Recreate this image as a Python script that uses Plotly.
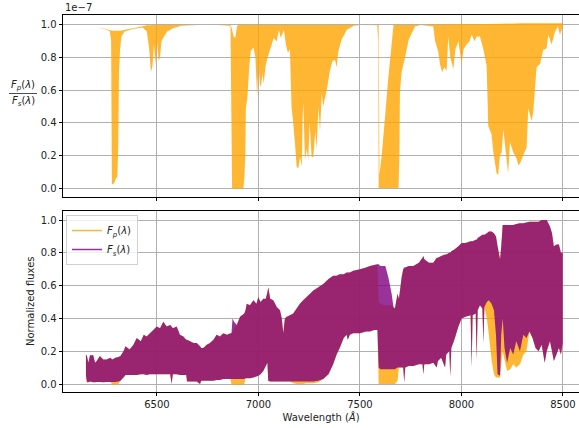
import plotly.graph_objects as go

# ---------------- data ----------------
# Top panel: ratio Fp/Fs in units of 1e-7, drawn as a band between envelopes
wl_top_hi = [6150, 6200, 6250, 6280, 6320, 6360, 6400, 6450, 6500, 6600, 6700, 6860,
             6866, 6878, 6886, 6894, 6900, 7000, 7200, 7500, 7588, 7592, 7596, 7607,
             7623, 7639, 7655, 7665, 7700, 7800, 8000, 8100, 8300, 8450, 8500]
ratio_hi = [0.99, 0.985, 0.975, 0.965, 0.965, 0.975, 0.985, 0.998, 1.0, 1.0, 1.0, 1.0,
            0.99, 0.93, 0.92, 0.99, 1.0, 1.0, 1.0, 1.0, 1.0, 1.0, 0.08, 0.2,
            0.43, 0.67, 0.87, 1.0, 1.0, 1.0, 1.005, 1.005, 1.01, 1.01, 1.01]

wl_top_lo = [6150, 6200, 6250, 6268, 6274, 6278, 6290, 6298, 6305, 6309, 6313, 6318,
             6325, 6340, 6380, 6430, 6450, 6462, 6470, 6478, 6485, 6492, 6500, 6508,
             6515, 6522, 6535, 6550, 6580, 6620, 6700, 6800, 6855, 6862, 6866, 6870,
             6925, 6930, 6935, 6938, 6945, 6955, 6962, 6975, 6985, 6993, 7000, 7008,
             7014, 7020, 7026, 7035, 7045, 7060, 7075, 7090, 7100, 7110, 7125, 7135,
             7145, 7155, 7163, 7168, 7180, 7188, 7196, 7205, 7213, 7218, 7221, 7229,
             7237, 7245, 7252, 7262, 7270, 7280, 7286, 7296, 7303, 7312, 7319, 7336,
             7352, 7365, 7377, 7385, 7393, 7409, 7434, 7470, 7500, 7585, 7590, 7592,
             7690, 7694, 7697, 7705, 7722, 7740, 7771, 7800, 7861, 7870, 7885, 7894,
             7905, 7915, 7927, 7935, 7945, 7960, 7970, 7985, 8001, 8010, 8025, 8040,
             8050, 8065, 8075, 8091, 8108, 8124, 8132, 8148, 8157, 8173, 8181, 8189,
             8198, 8206, 8222, 8230, 8239, 8255, 8272, 8280, 8288, 8304, 8321, 8329,
             8346, 8354, 8362, 8370, 8387, 8403, 8411, 8420, 8428, 8444, 8461, 8475,
             8485, 8499]
ratio_lo = [0.99, 0.985, 0.972, 0.962, 0.90, 0.02, 0.03, 0.06, 0.07, 0.25, 0.72, 0.85,
            0.93, 0.96, 0.975, 0.985, 0.96, 0.85, 0.71, 0.75, 0.88, 0.76, 0.90, 0.78,
            0.80, 0.90, 0.93, 0.96, 0.98, 0.995, 1.0, 1.0, 0.995, 0.99, 0.5, -0.005,
            -0.005, 0.05, 0.2, 0.49, 0.55, 0.75, 0.84, 0.86, 0.80, 0.56, 0.75, 0.62,
            0.64, 0.70, 0.64, 0.75, 0.80, 0.86, 0.92, 0.90, 0.97, 0.92, 0.97, 0.88,
            0.83, 0.85, 0.49, 0.44, 0.27, 0.13, 0.12, 0.19, 0.13, 0.45, 0.52, 0.17,
            0.24, 0.17, 0.40, 0.19, 0.19, 0.35, 0.24, 0.50, 0.345, 0.58, 0.50, 0.60,
            0.72, 0.78, 0.785, 0.74, 0.836, 0.908, 0.97, 0.995, 1.0, 0.998, 0.9, 0.0,
            0.0, 0.2, 0.59, 0.71, 0.80, 0.91, 0.99, 1.0, 0.99, 0.90, 0.84, 0.76,
            0.71, 0.74, 0.72, 0.93, 0.80, 0.73, 0.85, 0.90, 0.76, 0.85, 0.88, 0.90,
            0.94, 0.90, 0.93, 0.93, 0.85, 0.75, 0.38, 0.33, 0.22, 0.09, 0.08, 0.20,
            0.22, 0.36, 0.18, 0.09, 0.28, 0.22, 0.18, 0.14, 0.15, 0.20, 0.25, 0.49,
            0.41, 0.47, 0.61, 0.74, 0.76, 0.85, 0.85, 0.86, 0.94, 0.88, 0.96, 0.99,
            0.94, 0.99]

# Bottom panel: normalized fluxes, lower/upper envelopes of the dense spectra
wl_bot = [6150, 6155, 6162, 6170, 6186, 6195, 6203, 6219, 6235, 6252, 6270, 6280,
          6295, 6310, 6320, 6335, 6345, 6365, 6384, 6400, 6420, 6435, 6449, 6465,
          6482, 6499, 6515, 6531, 6548, 6565, 6572, 6578, 6597, 6613, 6630, 6644,
          6648, 6663, 6680, 6696, 6712, 6718, 6728, 6745, 6761, 6778, 6794, 6810,
          6827, 6845, 6862, 6867, 6872, 6880, 6893, 6909, 6930, 6936, 6942, 6958,
          6975, 6990, 6999, 7010, 7024, 7036, 7044, 7048, 7058, 7073, 7090, 7106,
          7115, 7122, 7130, 7139, 7155, 7171, 7188, 7204, 7220, 7237, 7254, 7270,
          7295, 7319, 7345, 7368, 7385, 7400, 7420, 7434, 7440, 7450, 7467, 7500,
          7530, 7549, 7570, 7586, 7592, 7600, 7615, 7625, 7640, 7656, 7665, 7672,
          7685, 7692, 7705, 7713, 7718, 7723, 7740, 7763, 7790, 7808, 7812, 7817,
          7840, 7861, 7878, 7884, 7900, 7919, 7925, 7940, 7945, 7950, 7965, 7985,
          8001, 8020, 8045, 8050, 8055, 8070, 8075, 8080, 8091, 8103, 8108, 8113,
          8125, 8135, 8148, 8160, 8170, 8178, 8190, 8196, 8203, 8212, 8225, 8240,
          8255, 8270, 8288, 8305, 8320, 8335, 8350, 8365, 8380, 8395, 8410, 8420,
          8436, 8446, 8455, 8468, 8480, 8490, 8499]
fs_lo = [0.05, 0.01, 0.01, 0.015, 0.01, 0.01, 0.012, 0.012, 0.01, 0.012, 0.012, 0.012,
         0.012, 0.015, 0.02, 0.04, 0.055, 0.055, 0.055, 0.055, 0.06, 0.06, 0.055, 0.06,
         0.06, 0.06, 0.06, 0.06, 0.06, 0.06, 0.0, 0.06, 0.06, 0.055, 0.055, 0.055,
         0.015, 0.015, 0.015, 0.015, 0.0, 0.02, 0.02, 0.02, 0.02, 0.02, 0.025, 0.025,
         0.03, 0.03, 0.03, 0.03, 0.03, 0.03, 0.03, 0.03, 0.03, 0.035, 0.035, 0.035,
         0.04, 0.045, 0.05, 0.06, 0.08, 0.11, 0.13, 0.02, 0.015, 0.015, 0.015, 0.015,
         0.015, 0.015, 0.015, 0.015, 0.015, 0.015, 0.015, 0.015, 0.015, 0.015, 0.015, 0.015,
         0.02, 0.03, 0.06, 0.12, 0.18, 0.22, 0.28, 0.30, 0.27, 0.30, 0.31, 0.31,
         0.32, 0.32, 0.33, 0.33, 0.10, 0.09, 0.09, 0.09, 0.09, 0.09, 0.09, 0.09,
         0.10, 0.10, 0.10, 0.10, 0.01, 0.10, 0.11, 0.11, 0.12, 0.12, 0.06, 0.12,
         0.12, 0.13, 0.10, 0.14, 0.16, 0.10, 0.18, 0.20, 0.045, 0.22, 0.27, 0.35,
         0.40, 0.41, 0.42, 0.10, 0.42, 0.43, 0.15, 0.45, 0.48, 0.46, 0.25, 0.47,
         0.50, 0.51, 0.49, 0.45, 0.30, 0.06, 0.05, 0.30, 0.40, 0.22, 0.13, 0.22,
         0.18, 0.26, 0.20, 0.30, 0.28, 0.32, 0.28, 0.22, 0.20, 0.24, 0.13, 0.20,
         0.26, 0.20, 0.14, 0.18, 0.22, 0.18, 0.25]
fs_hi = [0.18, 0.17, 0.13, 0.175, 0.175, 0.13, 0.14, 0.17, 0.15, 0.15, 0.16, 0.15,
         0.16, 0.165, 0.17, 0.20, 0.23, 0.21, 0.24, 0.28, 0.26, 0.30, 0.29, 0.31,
         0.33, 0.35, 0.34, 0.38, 0.35, 0.36, 0.35, 0.34, 0.35, 0.30, 0.29, 0.27,
         0.27, 0.26, 0.25, 0.25, 0.23, 0.22, 0.22, 0.24, 0.25, 0.27, 0.30, 0.29,
         0.31, 0.30, 0.31, 0.31, 0.40, 0.38, 0.36, 0.41, 0.43, 0.45, 0.49, 0.48,
         0.51, 0.49, 0.53, 0.50, 0.52, 0.52, 0.56, 0.59, 0.52, 0.51, 0.47, 0.45,
         0.40, 0.31, 0.40, 0.41, 0.42, 0.43, 0.46, 0.49, 0.51, 0.53, 0.55, 0.57,
         0.59, 0.61, 0.64, 0.66, 0.66, 0.67, 0.67, 0.68, 0.68, 0.68, 0.69, 0.70,
         0.71, 0.72, 0.725, 0.73, 0.73, 0.72, 0.72, 0.72, 0.65, 0.55, 0.47, 0.46,
         0.55, 0.52, 0.65, 0.70, 0.71, 0.71, 0.72, 0.72, 0.74, 0.77, 0.78, 0.76,
         0.74, 0.74, 0.77, 0.77, 0.78, 0.79, 0.79, 0.80, 0.80, 0.81, 0.82, 0.84,
         0.86, 0.86, 0.87, 0.87, 0.87, 0.88, 0.88, 0.89, 0.90, 0.91, 0.91, 0.91,
         0.92, 0.93, 0.93, 0.92, 0.90, 0.84, 0.76, 0.84, 0.97, 0.97, 0.97, 0.97,
         0.97, 0.975, 0.98, 0.98, 0.985, 0.99, 0.99, 0.99, 0.99, 1.0, 1.0, 1.0,
         0.96, 0.92, 0.84, 0.85, 0.85, 0.80, 0.80]
fp_lo = [0.05, 0.01, 0.01, 0.015, 0.01, 0.01, 0.012, 0.012, 0.01, 0.012, 0.012, -0.005,
         -0.005, 0.0, 0.02, 0.04, 0.055, 0.055, 0.055, 0.055, 0.06, 0.06, 0.055, 0.06,
         0.06, 0.06, 0.06, 0.06, 0.06, 0.06, 0.0, 0.06, 0.06, 0.055, 0.055, 0.055,
         0.015, 0.015, 0.015, 0.015, 0.0, 0.02, 0.02, 0.02, 0.02, 0.02, 0.025, 0.025,
         0.03, 0.03, 0.03, -0.005, -0.005, -0.005, -0.005, -0.005, 0.0, 0.035, 0.035, 0.035,
         0.04, 0.045, 0.05, 0.06, 0.08, 0.11, 0.13, 0.02, 0.015, 0.015, 0.015, 0.015,
         0.015, 0.015, 0.015, 0.015, 0.015, 0.005, 0.0, 0.0, 0.0, 0.005, 0.005, 0.005,
         0.01, 0.03, 0.06, 0.12, 0.18, 0.22, 0.28, 0.30, 0.27, 0.30, 0.31, 0.31,
         0.32, 0.32, 0.33, 0.33, 0.0, 0.0, 0.0, 0.0, 0.0, 0.0, 0.0, 0.0,
         0.02, 0.10, 0.10, 0.10, 0.01, 0.10, 0.11, 0.11, 0.12, 0.12, 0.06, 0.12,
         0.12, 0.13, 0.10, 0.14, 0.16, 0.10, 0.18, 0.20, 0.045, 0.22, 0.27, 0.35,
         0.40, 0.41, 0.42, 0.10, 0.42, 0.43, 0.15, 0.45, 0.48, 0.46, 0.25, 0.47,
         0.40, 0.30, 0.15, 0.06, 0.04, 0.04, 0.04, 0.12, 0.20, 0.15, 0.08, 0.09,
         0.12, 0.10, 0.12, 0.18, 0.20, 0.32, 0.28, 0.22, 0.20, 0.24, 0.13, 0.20,
         0.26, 0.20, 0.14, 0.18, 0.22, 0.18, 0.25]
fp_hi = [0.18, 0.17, 0.13, 0.175, 0.175, 0.13, 0.14, 0.17, 0.15, 0.15, 0.16, 0.15,
         0.16, 0.165, 0.17, 0.20, 0.23, 0.21, 0.24, 0.28, 0.26, 0.30, 0.29, 0.31,
         0.33, 0.35, 0.34, 0.38, 0.35, 0.36, 0.35, 0.34, 0.35, 0.30, 0.29, 0.27,
         0.27, 0.26, 0.25, 0.25, 0.23, 0.22, 0.22, 0.24, 0.25, 0.27, 0.30, 0.29,
         0.31, 0.30, 0.31, 0.31, 0.32, 0.34, 0.36, 0.41, 0.43, 0.45, 0.49, 0.48,
         0.51, 0.49, 0.53, 0.50, 0.52, 0.52, 0.56, 0.59, 0.52, 0.51, 0.47, 0.45,
         0.40, 0.31, 0.40, 0.41, 0.42, 0.43, 0.46, 0.49, 0.51, 0.53, 0.55, 0.57,
         0.59, 0.61, 0.64, 0.66, 0.66, 0.67, 0.67, 0.68, 0.68, 0.68, 0.69, 0.70,
         0.71, 0.72, 0.725, 0.73, 0.50, 0.49, 0.48, 0.48, 0.48, 0.48, 0.47, 0.46,
         0.55, 0.52, 0.65, 0.70, 0.71, 0.71, 0.72, 0.72, 0.74, 0.77, 0.78, 0.76,
         0.74, 0.74, 0.77, 0.77, 0.78, 0.79, 0.79, 0.80, 0.80, 0.81, 0.82, 0.84,
         0.86, 0.86, 0.87, 0.87, 0.87, 0.88, 0.88, 0.89, 0.90, 0.91, 0.91, 0.91,
         0.92, 0.93, 0.93, 0.92, 0.90, 0.84, 0.76, 0.84, 0.97, 0.97, 0.97, 0.97,
         0.97, 0.975, 0.98, 0.98, 0.985, 0.99, 0.99, 0.99, 0.99, 1.0, 1.0, 1.0,
         0.96, 0.92, 0.84, 0.85, 0.85, 0.80, 0.80]

x_ticks = [6500, 7000, 7500, 8000, 8500]
y_ticks = [0.0, 0.2, 0.4, 0.6, 0.8, 1.0]

# ---------------- styling / layout ----------------
W, H = 579, 428
L, R, T, B = 63, 0, 15, 36
PW, PH = W - L - R, H - T - B

def px(xp):
    return (xp - L) / PW

def py(yp):
    return (H - B - yp) / PH

ORANGE = "rgba(255,165,0,0.8)"
PURPLE = "rgba(128,0,128,0.8)"
FONT = "DejaVu Sans"
GRID = "#b0b0b0"

fig = go.Figure()

def band(x_lo, y_lo, x_hi, y_hi, color, xa, ya):
    # closed polygon: upper envelope left->right, lower envelope right->left
    xs = list(x_hi) + list(x_lo)[::-1]
    ys = list(y_hi) + list(y_lo)[::-1]
    fig.add_trace(go.Scatter(x=xs, y=ys, mode="lines", fill="toself", fillcolor=color,
                             line=dict(width=0, color=color, simplify=False),
                             xaxis=xa, yaxis=ya, showlegend=False, hoverinfo="skip"))

band(wl_top_lo, ratio_lo, wl_top_hi, ratio_hi, ORANGE, "x", "y")
band(wl_bot, fp_lo, wl_bot, fp_hi, ORANGE, "x2", "y2")
band(wl_bot, fs_lo, wl_bot, fs_hi, PURPLE, "x2", "y2")

fig.add_trace(go.Scatter(x=[None], y=[None], mode="lines", line=dict(color=ORANGE, width=1.5),
                         name="<i>F</i><sub><i>p</i></sub>(<i>λ</i>)", xaxis="x2", yaxis="y2"))
fig.add_trace(go.Scatter(x=[None], y=[None], mode="lines", line=dict(color=PURPLE, width=1.5),
                         name="<i>F</i><sub><i>s</i></sub>(<i>λ</i>)", xaxis="x2", yaxis="y2"))

xr = [6037, 8579]
axis_common = dict(showgrid=True, gridcolor=GRID, gridwidth=0.8, showline=True,
                   linecolor="black", linewidth=0.9, ticks="outside", ticklen=3.5,
                   tickwidth=0.8, tickcolor="black", zeroline=False,
                   tickfont=dict(family=FONT, size=10, color="#222"))

top_dom = [py(197), 1.0]
bot_dom = [0.0, py(211)]

fig.update_layout(
    width=W, height=H,
    margin=dict(l=L, r=R, t=T, b=B, pad=0),
    paper_bgcolor="white", plot_bgcolor="white",
    font=dict(family=FONT, size=10, color="#222"),
    xaxis=dict(axis_common, range=xr, domain=[0, 1], anchor="y", tickvals=x_ticks,
               showticklabels=False, mirror=True),
    yaxis=dict(axis_common, range=[-0.0552, 1.0613], domain=top_dom, anchor="x",
               tickvals=y_ticks, tickformat=".1f"),
    xaxis2=dict(axis_common, range=xr, domain=[0, 1], anchor="y2", tickvals=x_ticks,
                mirror=True,
                title=dict(text="Wavelength (<i>Å</i>)", standoff=4,
                           font=dict(family=FONT, size=10, color="#222"))),
    yaxis2=dict(axis_common, range=[-0.0488, 1.055], domain=bot_dom, anchor="x2",
                tickvals=y_ticks, tickformat=".1f"),
    legend=dict(x=px(66), y=py(215), xanchor="left", yanchor="top",
                bgcolor="rgba(255,255,255,0.8)", bordercolor="#d0d0d0", borderwidth=1,
                font=dict(family=FONT, size=10, color="#222"), itemwidth=30,
                tracegroupgap=0, traceorder="normal"),
    showlegend=True,
)

ann_font = dict(family=FONT, size=10, color="#222")
fig.add_annotation(xref="paper", yref="paper", x=px(63), y=py(8), text="1e−7",
                   showarrow=False, xanchor="left", yanchor="middle", font=ann_font)
fig.add_annotation(xref="paper", yref="paper", x=px(23), y=py(85),
                   text="<i>F</i><sub><i>p</i></sub>(<i>λ</i>)",
                   showarrow=False, xanchor="center", yanchor="middle", font=ann_font)
fig.add_annotation(xref="paper", yref="paper", x=px(23), y=py(102),
                   text="<i>F</i><sub><i>s</i></sub>(<i>λ</i>)",
                   showarrow=False, xanchor="center", yanchor="middle", font=ann_font)
fig.add_shape(type="line", xref="paper", yref="paper", x0=px(9), x1=px(37),
              y0=py(93.5), y1=py(93.5), line=dict(color="#222", width=0.8))
fig.add_annotation(xref="paper", yref="paper", x=px(30), y=py(301),
                   text="Normalized fluxes", textangle=-90,
                   showarrow=False, xanchor="center", yanchor="middle", font=ann_font)

fig.write_html("out.html", config={"displayModeBar": False},
               post_script="document.body.style.margin='0px';"
                           "document.body.style.overflow='hidden';")
